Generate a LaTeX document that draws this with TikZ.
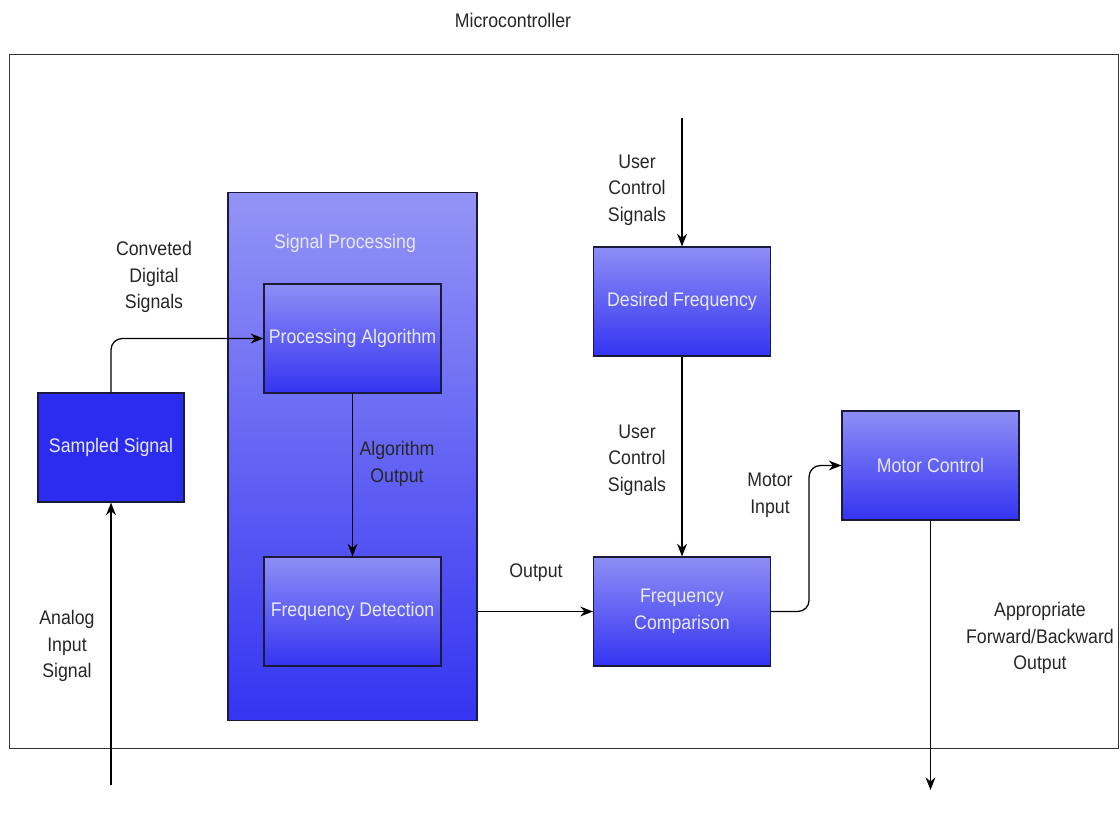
\documentclass[tikz,border=0pt]{standalone}
\usepackage{fontspec}
\setmainfont[FakeStretch=0.9]{Liberation Sans}
\usetikzlibrary{arrows.meta}

\definecolor{boxtop}{HTML}{8E8EF6}
\definecolor{boxbot}{HTML}{3434F2}
\definecolor{boxtext}{HTML}{E8E8FF}
\definecolor{solidbox}{HTML}{2C2CF0}
\definecolor{edgecol}{HTML}{1A1A3A}

\begin{document}
\begin{tikzpicture}[x=0.025cm, y=-0.025cm,
    >={Stealth[length=9pt, width=7pt]},
    every node/.style={font=\fontsize{14}{19}\selectfont, align=center},
    block/.style={draw=edgecol, line width=0.8pt, top color=boxtop, bottom color=boxbot,
      text=boxtext, minimum width=4.425cm, minimum height=2.725cm, inner sep=0pt},
    lbl/.style={text=black!85}
  ]
        \useasboundingbox (0, 0) rectangle (1120, 813);

        % ------------------------------------------------------------------------
        % Frame
        \node[lbl] at (513, 20) (title) {Microcontroller};
        \node[draw = black!80, line width = 0.8pt, minimum width = 27.7cm,
              minimum height = 17.325cm] at (564, 401.5) (mcu) {};

        % ------------------------------------------------------------------------
        % Left part
        \node[draw = edgecol, line width = 0.8pt, fill = solidbox, text = boxtext,
              minimum width = 3.65cm, minimum height = 2.725cm] at (111, 447.5) (sampled) {Sampled Signal};

        \node[draw = edgecol, line width = 0.8pt, top color = boxtop!95!white, bottom color = boxbot,
              minimum width = 6.225cm, minimum height = 13.175cm] at (352.5, 456.5) (sp) {};
        \node[text = boxtext] at (345, 243) (sptitle) {Signal Processing};

        \node[block] at (352.5, 338.5) (algo) {Processing Algorithm};
        \node[block] at (352.5, 611.5) (detect) {Frequency Detection};

        \coordinate (analog) at (111, 785);

        \draw[->, line width = 0.9pt]
          (analog) -- (sampled.south)
        ;
        \draw[->, line width = 0.9pt, rounded corners = 8pt]
          (sampled.north) |- (algo.west)
        ;
        \draw[->, line width = 0.9pt]
          (algo) -- (detect)
        ;

        \node[lbl] at (67, 646) (analoglbl) {Analog\\Input\\Signal};
        \node[lbl] at (154, 277) (convlbl) {Conveted\\Digital\\Signals};
        \node[lbl] at (397, 464) (algolbl) {Algorithm\\Output};

        % ------------------------------------------------------------------------
        % Right part
        \node[block] at (682, 301.5) (desired) {Desired Frequency};
        \node[block] at (682, 611.5) (compare) {Frequency\\Comparison};
        \node[block] at (930.5, 465.5) (motor) {Motor Control};

        \coordinate (user) at (682, 118);
        \coordinate (out) at (930.5, 790);

        \draw[->, line width = 0.9pt]
          (user) -- (desired.north)
        ;
        \draw[->, line width = 0.9pt]
          (desired) -- (compare)
        ;
        \draw[->, line width = 0.9pt]
          (sp.east |- detect.east) -- (compare.west)
        ;
        \draw[->, line width = 0.9pt, rounded corners = 8pt]
          (compare.east) -- ++(38, 0) |- (motor.west)
        ;
        \draw[->, line width = 0.9pt]
          (motor.south) -- (out)
        ;

        \node[lbl] at (637, 190) (userlbl) {User\\Control\\Signals};
        \node[lbl] at (637, 460) (userlbl2) {User\\Control\\Signals};
        \node[lbl] at (536, 573) (outlbl) {Output};
        \node[lbl] at (770, 495) (motorlbl) {Motor\\Input};
        \node[lbl] at (1040, 638) (fwdlbl) {Appropriate\\Forward/Backward\\Output};
      \end{tikzpicture}
\end{document}
